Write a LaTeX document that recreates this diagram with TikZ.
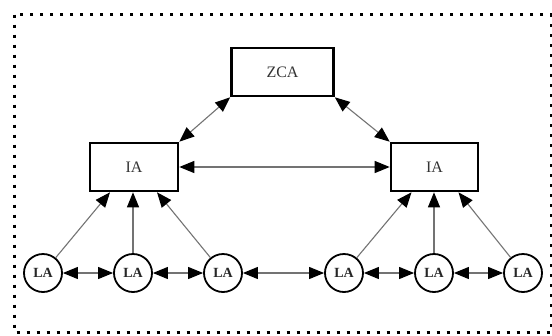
\documentclass[tikz,border=0pt]{standalone}
\usepackage{fontspec}
\setmainfont{Liberation Serif}
\usetikzlibrary{arrows.meta,calc}
\begin{document}
\begin{tikzpicture}[x=1pt,y=-1pt,
  box/.style={draw=black,line width=2.6pt,minimum width=#1,minimum height=48pt,inner sep=0pt,font=\fontsize{16}{16}\selectfont,text=black!80},
  lanode/.style={draw=black,circle,line width=1.8pt,minimum size=38pt,inner sep=0pt,font=\bfseries\fontsize{14}{14}\selectfont,text=black!85},
  link/.style={draw=black!55,line width=1.1pt,-{Triangle[length=15pt,width=12pt,fill=black,color=black]}},
  dlink/.style={draw=black!55,line width=1.1pt,{Triangle[length=15pt,width=12pt,fill=black,color=black]}-{Triangle[length=15pt,width=12pt,fill=black,color=black]}}]
\useasboundingbox (0,0) rectangle (552,335);
\draw[line width=3pt,dash pattern=on 3pt off 7pt] (14,14.5) rectangle (551,332);
\node[box=102pt] (zca) at (282.5,72) {ZCA};
\node[box=88pt] (ial) at (134,167) {IA};
\node[box=87pt] (iar) at (434.5,167) {IA};
\node[lanode] (l1) at (43,273) {LA};
\node[lanode] (l2) at (133,273) {LA};
\node[lanode] (l3) at (223,273) {LA};
\node[lanode] (l4) at (344,273) {LA};
\node[lanode] (l5) at (434,273) {LA};
\node[lanode] (l6) at (523,273) {LA};
\coordinate (t1) at ($(ial.south)+(-24,0)$);
\coordinate (t2) at (l2 |- ial.south);
\coordinate (t3) at ($(ial.south)+(23,0)$);
\coordinate (t4) at ($(iar.south)+(-23,0)$);
\coordinate (t5) at (l5 |- iar.south);
\coordinate (t6) at ($(iar.south)+(24,0)$);
\draw[dlink] (zca.south west) -- (ial.north east);
\draw[dlink] (zca.south east) -- (iar.north west);
\draw[dlink] (ial.east) -- (iar.west);
\draw[link] (l1) -- (t1);
\draw[link] (l2) -- (t2);
\draw[link] (l3) -- (t3);
\draw[link] (l4) -- (t4);
\draw[link] (l5) -- (t5);
\draw[link] (l6) -- (t6);
\draw[dlink] (l1) -- (l2);
\draw[dlink] (l2) -- (l3);
\draw[dlink] (l3) -- (l4);
\draw[dlink] (l4) -- (l5);
\draw[dlink] (l5) -- (l6);
\end{tikzpicture}
\end{document}
